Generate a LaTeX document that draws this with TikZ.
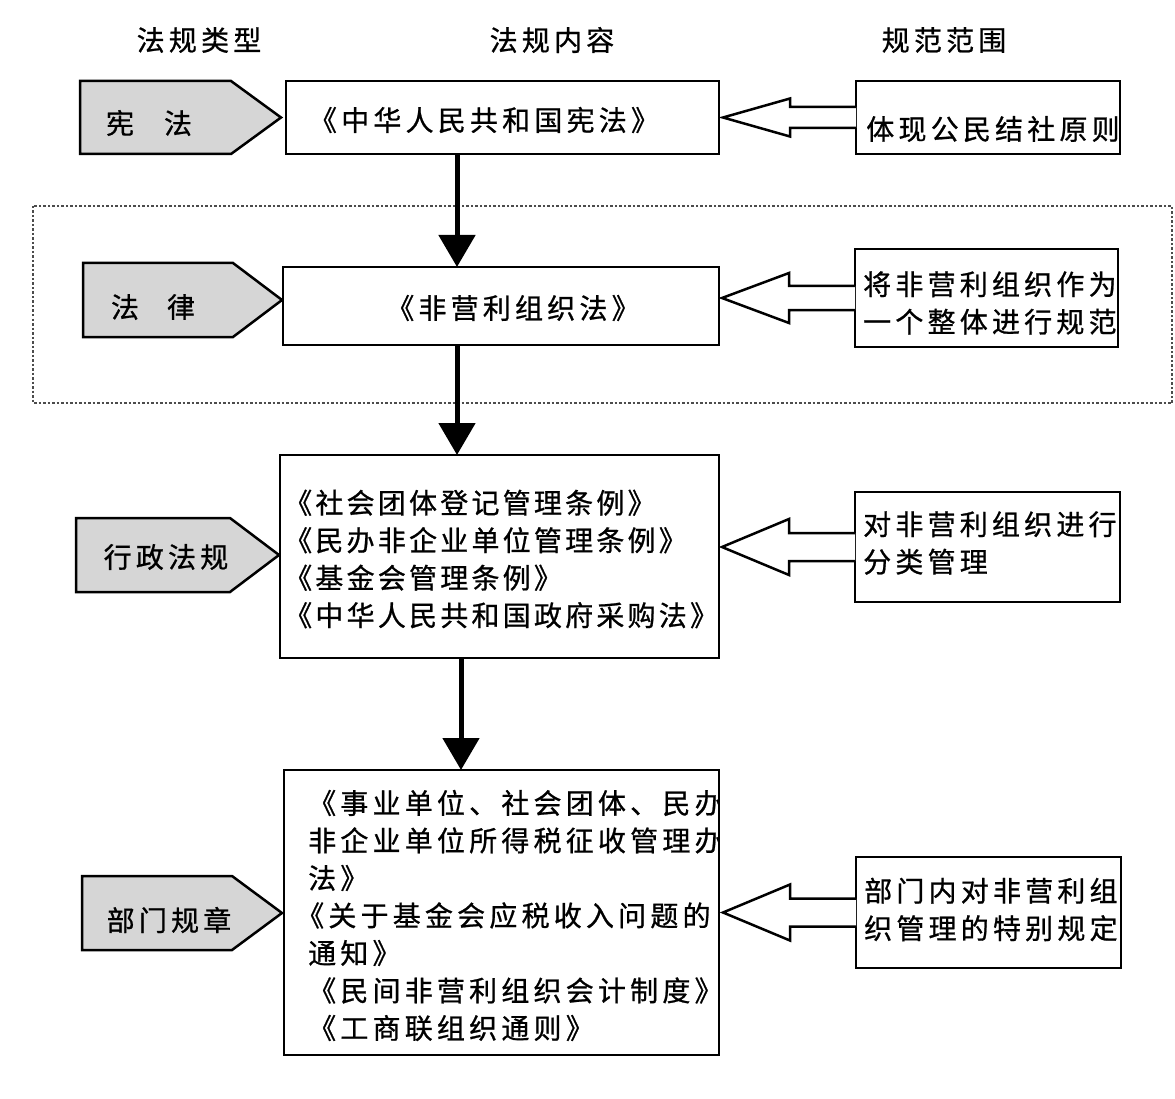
\documentclass[tikz,border=0pt]{standalone}
\usepackage{fontspec}
\newfontfamily\cjk[LetterSpace=15,FakeBold=0.8]{Noto Sans CJK SC}
\newfontfamily\cjkn[LetterSpace=11.5,FakeBold=0.8]{Noto Sans CJK SC}
\usetikzlibrary{arrows.meta,calc}
\definecolor{pentfill}{RGB}{214,214,214}
\tikzset{
  box/.style={draw, line width=2.5pt, fill=white, outer sep=0pt, inner sep=0pt, rectangle},
  pent/.style={draw, line width=2.5pt, fill=pentfill, line join=miter},
  hollow/.style={draw, line width=2.5pt, fill=white, line join=miter},
  txt/.style={inner sep=0pt, font=\fontsize{28pt}{37.5pt}\cjk},
  txtn/.style={inner sep=0pt, font=\fontsize{28pt}{37.5pt}\cjkn},
  bigarrow/.style={line width=5pt, -{Triangle[width=36pt,length=32pt]}},
  dotbox/.style={draw=black!70, line width=1.2pt, dash pattern=on 2.5pt off 2pt}
}
\newcommand\hollowarr[3]{%
  \draw[hollow] ($(#1.west)+(0,-#3)$) -- ($(#1.west)+(-66,-#3)$) -- ($(#1.west)+(-66,-#2)$)
   -- ($(#1.west)+(-133,0)$) -- ($(#1.west)+(-66,#2)$) -- ($(#1.west)+(-66,#3)$) -- ($(#1.west)+(0,#3)$);}
\begin{document}
\begin{tikzpicture}[x=1pt,y=-1pt]
\useasboundingbox (0,0) rectangle (1175,1099);

% headers
\node[txt] (h1) at (199,40) {法规类型};
\node[txt] (h2) at (552,40) {法规内容};
\node[txt] (h3) at (944,40) {规范范围};

% dotted frame around law row
\draw[dotbox] (33,206) rectangle (1172,403);

% pentagons (law types)
\draw[pent] (80,81) -- (231,81) -- (281,117.5) -- (231,154) -- (80,154) -- cycle;
\draw[pent] (83,263) -- (233,263) -- (282,300) -- (233,337) -- (83,337) -- cycle;
\draw[pent] (76,518) -- (230,518) -- (279,555) -- (230,592) -- (76,592) -- cycle;
\draw[pent] (82,876) -- (232,876) -- (282,913) -- (232,950) -- (82,950) -- cycle;
\node[txt] (p1) at (149,123) {宪\hspace{30pt}法};
\node[txt] (p2) at (153,307) {法\hspace{28pt}律};
\node[txt] (p3) at (166,557) {行政法规};
\node[txt] (p4) at (169,920) {部门规章};

% middle boxes (law content)
\node[box, minimum width=433pt, minimum height=73pt] (b1) at (502.5,117.5) {};
\node[box, minimum width=436pt, minimum height=78pt] (b2) at (501,306) {};
\node[box, minimum width=439pt, minimum height=203pt] (b3) at (499.5,556.5) {};
\node[box, minimum width=435pt, minimum height=285pt] (b4) at (501.5,912.5) {};

\node[txt] (t1) at (484,120) {《中华人民共和国宪法》};
\node[txt] (t2) at (513,308) {《非营利组织法》};
\node[txtn, align=left, anchor=west] (t3) at (284,559)
  {《社会团体登记管理条例》\\《民办非企业单位管理条例》\\《基金会管理条例》\\《中华人民共和国政府采购法》};
\begin{scope}
\clip (b4.south west) rectangle (b4.north east);
\node[txt, align=left, anchor=west] (t4) at (308,915.5)
  {《事业单位、社会团体、民办\\非企业单位所得税征收管理办\\法》\\\hspace*{-12pt}《关于基金会应税收入问题的\\通知》\\《民间非营利组织会计制度》\\《工商联组织通则》};
\end{scope}

% right boxes (scope)
\node[box, minimum width=264pt, minimum height=73pt] (r1) at (988,117.5) {};
\node[box, minimum width=263pt, minimum height=98pt] (r2) at (986.5,298) {};
\node[box, minimum width=265pt, minimum height=110pt] (r3) at (987.5,547) {};
\node[box, minimum width=265pt, minimum height=111pt] (r4) at (988.5,912.5) {};

\node[txt] (s1) at (993,129) {体现公民结社原则};
\node[txt, align=left, anchor=west] (s2) at (863,303) {将非营利组织作为\\一个整体进行规范};
\node[txt, align=left, anchor=west] (s3) at (863,543) {对非营利组织进行\\分类管理};
\node[txt, align=left, anchor=west] (s4) at (864,909.5) {部门内对非营利组\\织管理的特别规定};

% hollow arrows from scope to content
\hollowarr{r1}{19}{10.5}
\hollowarr{r2}{25}{12}
\hollowarr{r3}{28}{14}
\hollowarr{r4}{28}{14}

% flow arrows
\draw[bigarrow] (b1.south -| 457,0) -- (b2.north -| 457,0);
\draw[bigarrow] (b2.south -| 457,0) -- (b3.north -| 457,0);
\draw[bigarrow] (b3.south -| 461,0) -- (b4.north -| 461,0);
\end{tikzpicture}
\end{document}
